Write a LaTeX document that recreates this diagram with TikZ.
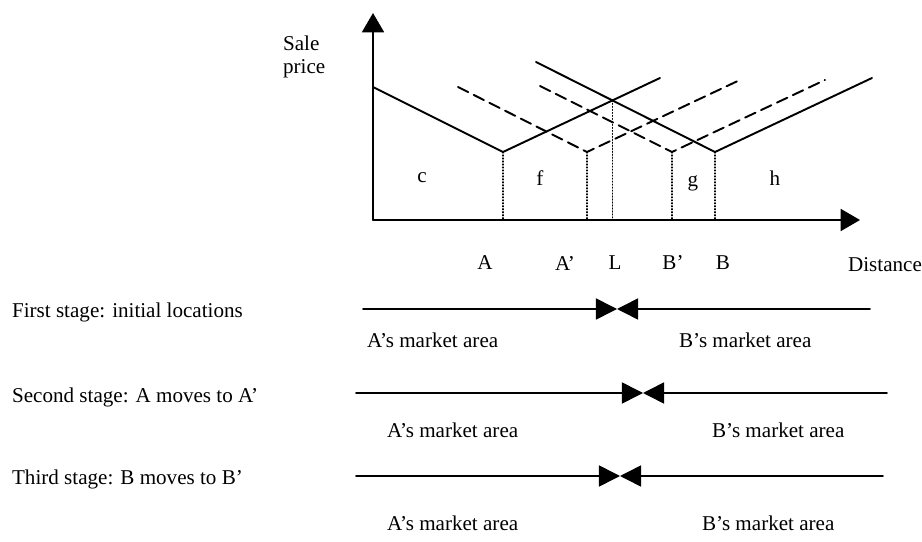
\documentclass[tikz,border=0pt]{standalone}
\usepackage{fontspec}
\setmainfont{Liberation Serif}
\usepackage{tkz-euclide}
\usetikzlibrary{arrows.meta}

\begin{document}
\begin{tikzpicture}[x=0.02cm,y=0.02cm,
    every node/.style={font=\fontsize{12}{13}\selectfont,inner sep=1pt},
    axis/.style={line width=1.1pt,-{Triangle[length=11pt,width=12.5pt]}},
    price/.style={line width=1.1pt},
    moved/.style={line width=1.1pt,dash pattern=on 6.5pt off 3.5pt},
    drop/.style={line width=0.6pt,dash pattern=on 0.6pt off 1.1pt},
    area/.style={line width=0.9pt,-{Triangle[length=12pt,width=12pt]}}]
            \useasboundingbox (0,0) rectangle (922,541);
            \tkzDefPoint(373,321){O}
            \tkzDefPoint(373,528){Y}
            \tkzDefPoint(860,321){X}
            \tkzDefPoint(373,454){A1}
            \tkzDefPoint(503,389){A}
            \tkzDefPoint(660,463){A2}
            \tkzDefPoint(536,479){B1}
            \tkzDefPoint(715,389){B}
            \tkzDefPoint(872,463){B2}
            \tkzDefPoint(458,454){Ap1}
            \tkzDefPoint(587,389){Ap}
            \tkzDefPoint(742,462){Ap2}
            \tkzDefPoint(540,455){Bp1}
            \tkzDefPoint(672,389){Bp}
            \tkzDefPoint(825,461){Bp2}
            \coordinate (L) at (intersection of A--A2 and B1--B);
            \coordinate (a) at (A |- O);
            \coordinate (ap) at (Ap |- O);
            \coordinate (l) at (L |- O);
            \coordinate (bp) at (Bp |- O);
            \coordinate (b) at (B |- O);
            \tkzDrawSegments[drop](A,a Ap,ap L,l Bp,bp B,b)
            \tkzDrawSegment[axis](O,Y)
            \tkzDrawSegment[axis](O,X)
            \tkzDrawPolySeg[price](A1,A,A2)
            \tkzDrawPolySeg[price](B1,B,B2)
            \tkzDrawPolySeg[moved](Ap1,Ap,Ap2)
            \tkzDrawPolySeg[moved](Bp1,Bp,Bp2)
            \draw node (pricelab) [anchor=west,align=left] at (281,484) {Sale\\price};
            \draw node (regc) at (422,363) {c};
            \draw node (regf) at (540,363) {f};
            \draw node (regg) at (693,358) {g};
            \draw node (regh) at (775,363) {h};
            \draw node (labA) at (485,278) {A};
            \draw node (labAp) at (565,278) {A'};
            \draw node (labL) at (615,278) {L};
            \draw node (labBp) at (673,278) {B'};
            \draw node (labB) at (723,278) {B};
            \draw node (dist) [anchor=west] at (846,276) {Distance};
            \tkzDefPoint(363,232){Rs}
            \tkzDefPoint(617,232){Rm}
            \tkzDefPoint(870,232){Re}
            \tkzDrawSegment[area](Rs,Rm)
            \tkzDrawSegment[area](Re,Rm)
            \draw node (stage1) [anchor=west] at (10,229) {First stage: initial locations};
            \draw node (areaA1) [anchor=west] at (365,201) {A's market area};
            \draw node (areaB1) [anchor=west] at (677,201) {B's market area};
            \tkzDefPoint(356,148){Ss}
            \tkzDefPoint(643,148){Sm}
            \tkzDefPoint(887,148){Se}
            \tkzDrawSegment[area](Ss,Sm)
            \tkzDrawSegment[area](Se,Sm)
            \draw node (stage2) [anchor=west] at (10,144) {Second stage: A moves to A'};
            \draw node (areaA2) [anchor=west] at (385,111) {A's market area};
            \draw node (areaB2) [anchor=west] at (710,111) {B's market area};
            \tkzDefPoint(356,65){Ts}
            \tkzDefPoint(620,65){Tm}
            \tkzDefPoint(883,65){Te}
            \tkzDrawSegment[area](Ts,Tm)
            \tkzDrawSegment[area](Te,Tm)
            \draw node (stage3) [anchor=west] at (10,62) {Third stage: B moves to B'};
            \draw node (areaA3) [anchor=west] at (385,18) {A's market area};
            \draw node (areaB3) [anchor=west] at (700,18) {B's market area};
        \end{tikzpicture}
\end{document}
